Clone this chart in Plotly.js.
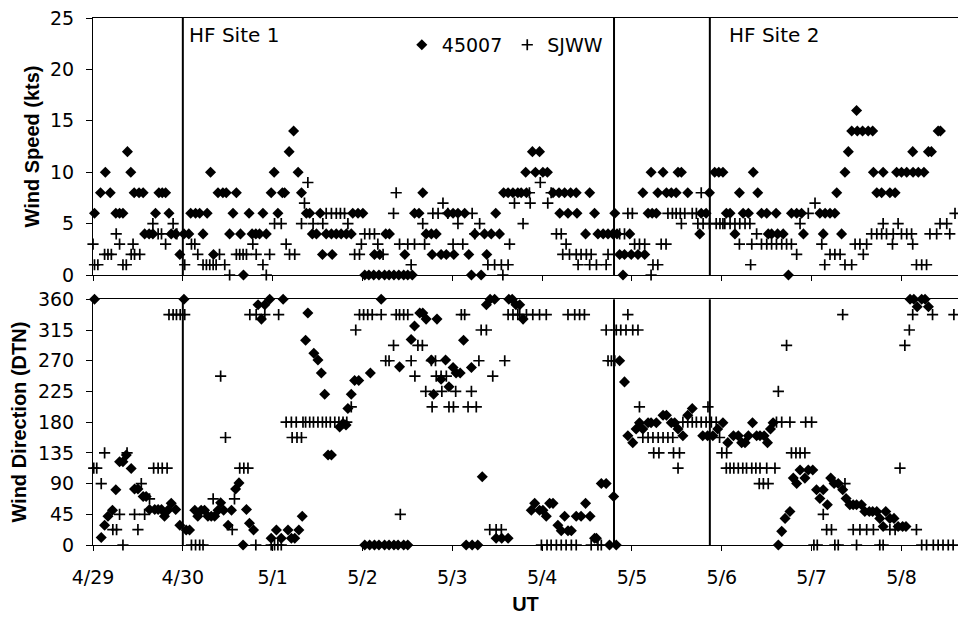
<!DOCTYPE html>
<html>
<head>
<meta charset="utf-8">
<script src="https://cdn.plot.ly/plotly-3.0.1.min.js"></script>
<style>html,body{margin:0;padding:0;background:#fff;}#chart{width:958px;height:620px;}</style>
</head>
<body>
<div id="chart"></div>
<script>
// Time axis: hours since 4/29 00:00 UT
const dayTickHours = [0, 24, 48, 72, 96, 120, 144, 168, 192, 216];
const dayTickLabels = ["4/29", "4/30", "5/1", "5/2", "5/3", "5/4", "5/5", "5/6", "5/7", "5/8"];
const speedTicks = [0, 5, 10, 15, 20, 25];
const dirTicks = [0, 45, 90, 135, 180, 225, 270, 315, 360];
const hfLineHours = [24, 139.2, 164.8];
const hfLabels = ["HF Site 1", "HF Site 2"];
const seriesNames = ["45007", "SJWW"];

// Wind speed (kts), buoy 45007
const spdHours45007 = [0.4,2.0,3.3,4.6,6.1,7.1,8.0,9.2,10.1,11.0,12.3,13.4,13.8,15.0,16.0,16.7,17.6,18.5,19.4,20.3,20.9,22.1,23.2,24.3,25.6,26.1,27.4,28.5,29.4,30.5,31.4,32.2,33.4,34.7,35.6,36.5,37.4,38.3,39.4,40.2,41.7,42.5,43.5,44.5,45.4,46.3,47.6,48.4,49.4,50.6,51.2,52.4,53.6,54.8,55.7,57.0,57.9,58.6,59.7,60.7,61.3,62.3,63.7,63.9,65.0,66.3,67.7,69.0,69.4,70.8,72.1,72.6,73.7,75.0,75.2,76.4,76.6,77.9,78.2,79.1,79.2,80.4,81.7,83.0,83.3,84.1,85.3,85.9,87.1,88.1,89.0,90.4,90.6,91.7,93.0,94.4,94.8,96.2,96.4,97.5,99.3,100.4,101.1,102.0,103.7,104.6,105.2,106.4,107.6,108.6,109.7,110.9,112.2,113.5,114.4,115.6,115.8,117.4,118.2,119.3,120.2,121.4,122.9,124.5,124.7,126.0,126.9,127.6,129.1,129.3,131.6,132.7,134.0,134.9,136.3,137.6,138.9,139.4,140.0,140.7,141.6,142.0,143.4,143.8,145.6,146.9,147.4,148.3,149.1,149.4,150.5,150.9,152.3,153.2,154.5,155.8,156.3,157.2,158.9,162.1,162.5,163.8,164.7,166.1,167.2,168.3,169.2,170.2,171.5,172.7,173.7,175.1,176.4,177.6,178.6,180.0,180.4,181.3,182.5,182.9,184.4,185.8,186.6,188.0,189.3,189.8,194.2,195.1,195.6,196.9,198.2,198.7,200.0,200.9,201.8,202.7,204.0,204.2,205.6,207.1,208.3,208.5,209.4,210.7,211.1,212.9,214.3,214.7,216.0,217.4,219.0,219.1,220.5,222.0,223.2,224.0,225.8,226.4];
const spd45007 = [6,8,10,8,6,6,6,12,10,8,8,8,4,4,4,6,8,8,8,6,4,4,2,4,4,6,6,6,4,6,10,2,8,8,8,4,6,8,4,0,6,4,4,4,6,4,8,10,6,8,8,12,14,10,8,6,6,4,4,6,2,4,4,2,4,4,4,4,6,6,6,0,0,0,2,0,2,0,4,0,4,0,0,0,2,0,0,6,6,8,4,4,2,4,2,2,6,6,2,6,6,2,0,4,0,4,2,4,6,4,8,8,8,8,8,10,8,12,10,12,10,10,8,8,6,8,6,8,8,6,4,8,6,4,4,4,4,6,4,2,0,2,4,2,2,8,2,6,10,6,6,8,10,8,8,8,10,10,8,4,6,6,8,10,10,10,6,6,4,8,6,6,10,8,6,6,4,4,6,4,4,0,6,6,6,4,6,4,6,6,6,8,4,10,12,14,16,14,14,14,14,10,8,8,10,8,8,10,10,10,12,10,10,10,12,12,14,14];

// Wind speed (kts), SJWW
const spdHoursSJWW = [0.0,0.4,1.3,3.1,4.0,4.9,6.2,7.1,8.0,8.9,10.2,10.7,11.1,12.5,16.0,17.4,18.3,19.4,21.4,22.4,24.5,26.3,27.2,28.0,29.4,30.3,31.2,32.1,32.9,33.8,35.2,36.5,38.3,39.2,40.1,41.0,42.7,43.6,45.4,46.3,47.2,48.5,50.3,51.6,52.5,53.9,55.7,56.5,57.4,58.8,61.4,62.3,63.7,65.0,66.1,67.2,68.1,69.9,71.2,71.7,72.6,73.9,75.2,76.1,77.5,80.3,81.0,81.9,84.1,85.0,85.9,88.1,88.6,90.8,92.2,93.5,94.8,96.2,97.5,98.8,101.3,102.0,103.3,105.5,107.3,109.1,109.5,110.9,111.3,112.6,114.9,116.6,116.8,119.5,121.5,122.4,123.8,125.1,125.5,126.4,127.3,129.1,129.6,130.4,131.8,132.7,133.1,134.5,137.1,137.6,140.7,142.0,142.9,144.1,144.7,146.0,147.4,149.1,149.6,150.9,151.8,153.1,153.6,154.8,155.8,156.9,157.2,158.1,160.1,161.2,161.6,162.5,163.0,164.7,166.5,167.5,168.3,168.8,170.2,171.5,172.7,172.8,174.2,175.5,175.7,176.0,177.3,178.6,180.0,181.3,182.6,184.0,185.3,186.6,188.0,188.9,191.1,192.9,194.7,195.5,196.9,198.2,199.6,200.9,202.7,203.6,204.9,205.8,206.7,208.0,209.4,210.7,211.1,212.0,213.6,213.8,215.1,216.0,217.4,218.7,219.0,220.0,221.4,222.7,223.6,225.4,226.3,228.1,228.9,230.3];
const spdSJWW = [3,1,1,2,2,2,4,3,1,1,2,3,2,2,5,4,4,3,5,4,1,3,3,2,1,1,1,1,1,2,1,0,2,2,2,2,3,2,1,0,2,5,5,3,2,2,5,7,9,5,5,6,6,6,6,6,5,2,2,3,4,4,4,3,2,6,8,3,3,1,3,5,3,6,6,7,6,3,5,3,6,4,5,1,1,1,0,1,3,7,5,8,7,9,7,8,4,4,2,3,2,2,1,2,2,1,2,1,1,2,4,4,6,6,3,3,3,0,1,1,3,3,6,6,6,6,5,6,6,6,5,8,5,5,5,5,5,5,5,5,3,5,5,5,1,3,4,3,3,3,3,3,3,3,2,5,6,7,3,1,2,2,2,1,1,3,3,2,3,4,4,4,5,4,3,4,5,4,4,4,3,1,1,1,4,4,5,5,4,6];

// Wind direction (deg true north), buoy 45007
const dirHours45007 = [0.4,2.2,3.1,4.0,5.2,6.1,7.1,8.0,8.9,10.2,11.1,12.0,13.4,14.2,15.1,16.5,17.4,18.3,19.1,20.0,20.9,22.1,23.2,24.3,24.9,25.8,27.2,28.0,28.9,29.8,30.7,31.6,32.5,33.4,34.1,34.9,36.1,37.0,38.1,39.0,40.1,41.0,41.8,42.9,44.1,45.0,45.9,47.2,47.6,49.0,50.3,50.8,52.1,53.0,53.9,55.0,55.9,56.8,57.4,59.0,60.1,61.0,61.9,62.8,63.7,65.9,66.8,67.6,68.1,69.0,69.9,71.0,72.6,73.9,74.1,75.2,76.4,77.0,77.9,79.1,80.4,81.5,81.9,83.0,84.1,85.0,85.9,87.3,88.1,89.0,90.4,91.0,91.9,93.0,94.2,95.1,96.2,97.0,98.1,99.0,99.7,101.1,101.3,102.8,104.0,105.1,106.1,107.3,107.7,109.2,110.9,111.1,112.0,113.0,114.0,114.9,117.1,118.0,119.3,120.2,121.1,122.0,122.9,124.2,125.1,126.0,126.9,127.8,129.1,130.4,131.6,132.8,134.0,134.5,135.8,137.1,138.0,139.1,139.8,140.7,142.0,142.9,144.2,145.1,146.0,146.9,148.3,149.1,150.5,152.3,153.2,154.5,155.4,156.3,157.6,158.9,160.1,162.9,164.2,165.6,166.9,168.3,169.6,171.1,172.4,173.3,174.2,175.1,176.2,177.3,178.2,179.3,180.2,181.0,181.7,183.1,184.0,184.9,186.2,187.1,188.0,188.9,190.2,191.1,192.3,193.3,194.2,195.1,196.2,197.1,198.0,199.1,200.3,201.2,202.2,203.1,204.0,205.3,206.2,207.4,208.3,209.4,210.2,211.1,211.8,212.9,214.0,215.1,216.3,217.2,218.3,219.3,220.2,221.4,222.3,223.2];
const dir45007 = [360,11,29,42,51,81,122,122,132,112,82,82,71,71,52,52,52,52,42,51,61,52,29,360,22,22,51,42,51,51,42,42,42,51,62,51,29,51,82,91,0,52,32,22,352,331,352,360,10,22,10,360,22,10,10,22,42,300,340,281,271,252,221,132,132,173,178,176,200,221,241,241,0,0,252,0,0,360,0,0,0,0,261,0,0,301,321,340,340,331,271,221,331,243,271,232,260,252,252,300,0,260,0,0,100,352,360,360,10,10,10,360,360,352,352,331,51,61,51,51,42,61,61,29,21,42,21,21,42,42,61,42,10,10,90,90,0,71,0,270,239,160,150,170,179,170,179,179,179,190,190,179,179,170,160,190,200,160,160,160,170,179,150,160,160,150,150,160,179,160,160,160,150,170,179,0,20,39,49,98,90,110,98,110,110,81,68,81,59,98,90,90,81,68,59,59,59,59,49,49,49,49,39,27,49,39,39,27,27,27,360,360,349,360,360,349];

// Wind direction (deg true north), SJWW
const dirHoursSJWW = [0.2,1.0,2.2,3.1,5.3,6.3,7.1,8.0,9.1,11.1,12.0,12.9,13.8,15.1,16.2,17.4,18.5,19.8,20.3,21.4,22.3,23.3,24.5,26.3,27.4,28.5,29.4,32.1,34.1,35.4,37.2,37.8,39.2,40.3,41.4,41.9,43.5,43.6,45.9,47.6,48.5,49.4,49.6,50.3,51.6,53.0,53.2,54.3,54.5,55.7,56.1,56.8,57.9,58.9,60.1,61.3,62.3,63.4,64.6,65.7,66.8,67.8,69.0,70.2,71.2,72.3,73.4,74.6,77.0,78.2,79.1,80.3,81.0,81.9,82.1,83.0,84.1,85.0,86.0,86.8,88.0,88.9,90.4,90.6,91.5,91.7,93.0,93.2,94.4,95.1,96.3,96.9,98.4,99.3,100.2,101.1,102.4,103.1,103.7,105.1,106.0,106.8,107.7,109.1,110.0,110.9,112.2,113.5,114.0,115.8,117.5,119.3,119.8,121.1,121.3,122.4,123.8,125.1,126.4,126.9,127.8,128.7,129.1,130.0,131.3,133.1,134.9,135.8,137.1,137.6,138.5,139.4,139.8,141.0,142.4,142.9,144.2,145.6,146.0,146.9,148.3,149.6,149.8,151.0,151.2,152.3,153.6,154.9,155.1,156.3,156.7,157.6,158.9,160.1,161.2,162.5,163.8,164.3,165.2,166.5,167.4,168.0,169.2,169.3,170.2,171.2,172.4,173.6,174.6,176.0,177.1,178.0,178.2,179.1,180.0,180.4,182.2,182.6,183.1,184.0,185.3,186.2,186.6,187.8,188.9,190.2,190.4,192.0,192.6,193.5,195.1,196.0,197.3,198.2,199.1,200.3,200.9,203.1,204.0,204.9,206.7,208.5,210.2,211.1,212.9,214.3,215.6,216.9,218.1,219.0,220.0,221.4,222.7,224.3,224.5,225.8,227.1,228.5,229.8,230.0];
const dirSJWW = [112.5,112.5,90,135,22.5,22.5,45,0,135,45,22.5,90,45,67.5,112.5,112.5,112.5,112.5,337.5,337.5,337.5,337.5,337.5,0,0,0,0,67.5,247.5,157.5,22.5,67.5,112.5,112.5,112.5,337.5,0,337.5,337.5,0,0,0,337.5,0,180,180,157.5,180,157.5,157.5,180,180,180,180,180,180,180,180,180,180,180,180,202.5,315,337.5,337.5,337.5,337.5,337.5,270,270,292.5,337.5,337.5,45,337.5,337.5,270,247.5,292.5,292.5,225,270,202.5,270,247.5,247.5,225,247.5,202.5,202.5,225,337.5,337.5,202.5,225,202.5,270,315,315,22.5,247.5,22.5,22.5,270,337.5,337.5,337.5,337.5,337.5,337.5,337.5,0,337.5,0,0,0,0,0,337.5,0,337.5,0,337.5,337.5,0,0,0,315,270,270,270,315,315,315,337.5,315,315,202.5,157.5,157.5,157.5,135,157.5,135,157.5,157.5,157.5,135,112.5,135,180,180,180,180,180,180,202.5,180,180,157.5,135,112.5,135,112.5,112.5,112.5,112.5,112.5,112.5,112.5,90,112.5,90,112.5,90,112.5,180,225,180,292.5,180,135,135,135,135,180,180,0,0,45,22.5,22.5,0,0,337.5,90,22.5,0,22.5,22.5,22.5,0,0,22.5,22.5,112.5,292.5,315,337.5,22.5,0,0,337.5,0,0,0,0,0,337.5];

const tickFont = {family: "DejaVu Sans, sans-serif", size: 19, color: "#000"};
const titleFont = {family: "Liberation Sans, Arial, sans-serif", size: 20, color: "#000", weight: "bold"};

const diamond = {symbol: "diamond", size: 8.5, color: "#000", line: {width: 0}};
const cross = {symbol: "cross-thin-open", size: 8, color: "#000", line: {width: 1.7, color: "#000"}};

const traces = [
  {x: spdHours45007, y: spd45007, xaxis: "x", yaxis: "y", type: "scatter", mode: "markers", name: seriesNames[0], marker: diamond, cliponaxis: false, legendrank: 1},
  {x: spdHoursSJWW, y: spdSJWW, xaxis: "x", yaxis: "y", type: "scatter", mode: "markers", name: seriesNames[1], marker: cross, cliponaxis: false, legendrank: 2},
  {x: dirHours45007, y: dir45007, xaxis: "x2", yaxis: "y2", type: "scatter", mode: "markers", name: seriesNames[0], marker: diamond, cliponaxis: false, showlegend: false},
  {x: dirHoursSJWW, y: dirSJWW, xaxis: "x2", yaxis: "y2", type: "scatter", mode: "markers", name: seriesNames[1], marker: cross, cliponaxis: false, showlegend: false}
];

const xRange = [0, 231.1];
const baseX = {range: xRange, tickmode: "array", tickvals: dayTickHours, showgrid: false, zeroline: false,
  showline: true, linecolor: "#000", linewidth: 1, mirror: true, ticks: "outside", ticklen: 5, tickcolor: "#000", fixedrange: true};

const shapes = [];
hfLineHours.forEach(h => {
  shapes.push({type: "line", xref: "x", yref: "y domain", x0: h, x1: h, y0: 0, y1: 1, line: {color: "#000", width: 2}});
  shapes.push({type: "line", xref: "x2", yref: "y2 domain", x0: h, x1: h, y0: 0, y1: 1, line: {color: "#000", width: 2}});
});

const layout = {
  width: 958, height: 620,
  margin: {l: 93, r: 0, t: 18, b: 75, pad: 0},
  paper_bgcolor: "#fff", plot_bgcolor: "#fff",
  showlegend: true,
  legend: {orientation: "h", x: 0.357, xanchor: "left", y: 0.985, yanchor: "top",
    font: {family: "DejaVu Sans, sans-serif", size: 19, color: "#000"}, bgcolor: "rgba(0,0,0,0)", borderwidth: 0, itemwidth: 30},
  xaxis: Object.assign({}, baseX, {anchor: "y", showticklabels: false}),
  yaxis: {domain: [0.5123, 1], anchor: "x", range: [0, 25], tickmode: "array", tickvals: speedTicks, ticktext: speedTicks.map(String),
    showgrid: false, zeroline: false, showline: true, linecolor: "#000", linewidth: 1, mirror: false,
    ticks: "outside", ticklen: 6, tickcolor: "#000", tickfont: tickFont, ticklabelstandoff: 8,
    title: {text: "Wind Speed (kts)", font: titleFont, standoff: 5}, automargin: false, fixedrange: true},
  xaxis2: Object.assign({}, baseX, {anchor: "y2", ticktext: dayTickLabels, tickfont: tickFont, ticklabelstandoff: 10,
    title: {text: "UT", font: titleFont, standoff: 10}, automargin: false}),
  yaxis2: {domain: [0, 0.4662], anchor: "x2", range: [0, 360], tickmode: "array", tickvals: dirTicks, ticktext: dirTicks.map(String),
    showgrid: false, zeroline: false, showline: true, linecolor: "#000", linewidth: 1, mirror: false,
    ticks: "outside", ticklen: 6, tickcolor: "#000", tickfont: tickFont, ticklabelstandoff: 8,
    title: {text: "Wind Direction (DTN)", font: titleFont, standoff: 5}, automargin: false, fixedrange: true},
  shapes: shapes,
  annotations: [
    {text: hfLabels[0], xref: "x", yref: "paper", x: hfLineHours[0], y: 0.9677, xanchor: "left", yanchor: "middle", xshift: 4, showarrow: false,
      font: {family: "DejaVu Sans, sans-serif", size: 20, color: "#000"}},
    {text: hfLabels[1], xref: "x", yref: "paper", x: hfLineHours[2], y: 0.9677, xanchor: "left", yanchor: "middle", xshift: 17, showarrow: false,
      font: {family: "DejaVu Sans, sans-serif", size: 20, color: "#000"}}
  ]
};

Plotly.newPlot("chart", traces, layout, {displayModeBar: false, staticPlot: true});
</script>
</body>
</html>
